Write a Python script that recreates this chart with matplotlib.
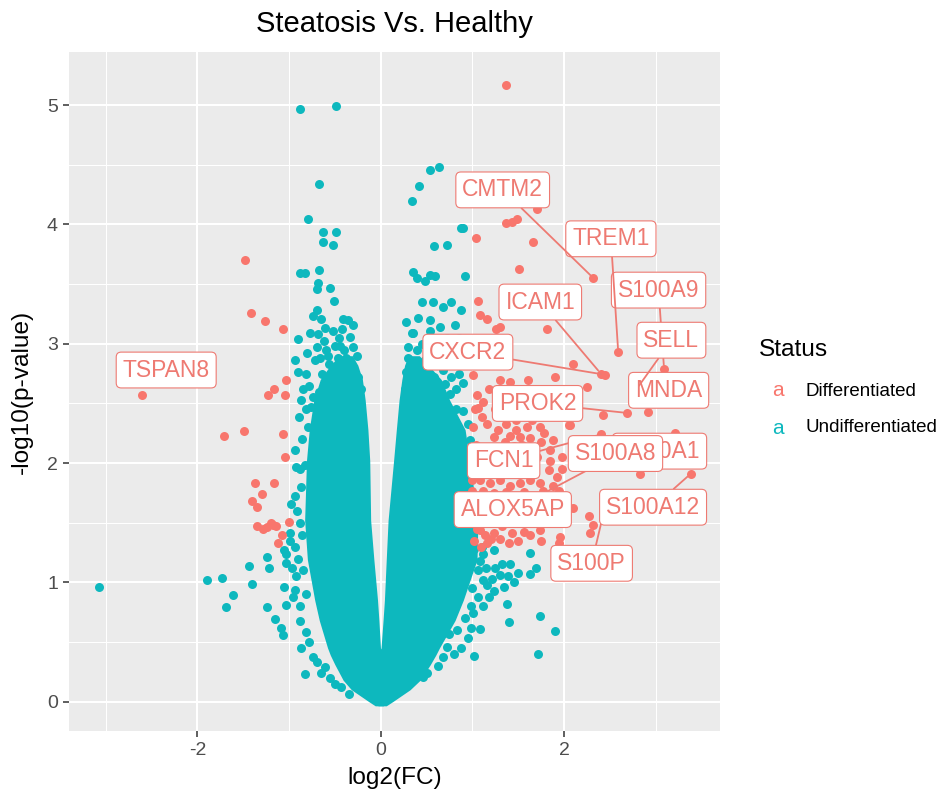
import matplotlib
matplotlib.use("Agg")
import matplotlib.pyplot as plt

plt.rcParams['font.family'] = ['Liberation Sans', 'DejaVu Sans']
plt.rcParams['axes.unicode_minus'] = False

# ---------------- data ----------------
# dense core of the undifferentiated cloud: outer/inner envelope per -log10(p) level
env_y  = [-0.035, 0.00, 0.10, 0.18, 0.31, 0.39, 0.45, 0.68, 0.85, 1.19, 1.52, 2.02, 2.28, 2.53, 2.70, 2.82, 2.90]
env_lo = [-0.06, -0.13, -0.32, -0.41, -0.50, -0.55, -0.58, -0.67, -0.72, -0.80, -0.83, -0.81, -0.78, -0.73, -0.66, -0.55, -0.45]
env_li = [0.03, 0.03, 0.03, 0.03, 0.03, 0.03, -0.003, -0.02, -0.035, -0.075, -0.11, -0.12, -0.14, -0.17, -0.20, -0.25, -0.31]
env_ri = [-0.03, -0.03, -0.03, -0.03, -0.03, -0.03, 0.003, 0.025, 0.04, 0.06, 0.08, 0.14, 0.17, 0.20, 0.23, 0.26, 0.30]
env_ro = [0.06, 0.13, 0.32, 0.43, 0.54, 0.60, 0.64, 0.81, 0.90, 1.05, 1.06, 0.97, 0.92, 0.75, 0.66, 0.52, 0.42]

teal_upper_left = [
    (-0.885, 4.97), (-0.49, 4.99), (-0.67, 4.34), (-0.79, 4.05), (-0.63, 3.94), (-0.49, 3.94),
    (-0.63, 3.85), (-0.52, 3.83), (-0.88, 3.59), (-0.83, 3.59), (-0.67, 3.62), (-0.68, 3.51),
    (-0.69, 3.46), (-0.55, 3.47), (-0.51, 3.36), (-0.70, 3.28), (-0.74, 3.23), (-0.65, 3.21),
    (-0.41, 3.21), (-0.30, 3.16), (-0.36, 3.20), (-0.61, 3.13), (-0.52, 3.11), (-0.77, 3.09),
    (-0.90, 3.04), (-0.30, 2.97), (-0.94, 2.86), (-0.72, 2.86), (-0.58, 2.90), (-0.56, 2.83),
    (-0.36, 2.83), (-0.90, 2.76), (-0.81, 2.75), (-0.78, 2.65), (-0.67, 2.60), (-0.87, 2.53),
    (-0.74, 2.55), (-0.89, 2.39), (-0.79, 2.30), (-0.70, 2.37), (-0.94, 2.11), (-0.92, 1.97),
    (-0.83, 1.98), (-0.94, 1.72), (-0.98, 1.66), (-0.45, 3.05), (-0.40, 2.95), (-0.62, 3.02),
    (-0.70, 2.97), (-0.50, 2.98), (-0.47, 2.88), (-0.68, 3.08), (-0.42, 3.12), (-0.33, 3.06),
    (-0.26, 2.90), (-0.80, 2.92), (-0.64, 2.75), (-0.56, 2.70), (-0.30, 2.78), (-0.85, 2.62),
    (-0.82, 2.45), (-0.76, 2.47), (-0.60, 2.95), (-0.66, 2.88), (-0.38, 2.88), (-0.44, 2.98),
    (-0.25, 2.72), (-0.22, 2.62),
]
teal_upper_right = [
    (0.54, 4.46), (0.63, 4.48), (0.415, 4.32), (0.34, 4.20), (0.87, 3.97), (0.90, 3.97),
    (0.58, 3.82), (0.72, 3.83), (0.35, 3.60), (0.39, 3.55), (0.48, 3.53), (0.54, 3.58),
    (0.59, 3.57), (0.92, 3.57), (0.445, 3.35), (0.57, 3.35), (0.68, 3.31), (0.77, 3.35),
    (0.88, 3.28), (0.28, 3.18), (0.41, 3.22), (0.54, 3.20), (0.645, 3.14), (0.81, 3.16),
    (0.35, 3.09), (0.54, 3.11), (0.28, 2.76), (0.35, 2.85), (0.34, 3.09), (0.90, 2.44),
    (0.95, 2.33), (0.97, 2.19), (0.90, 2.67), (0.45, 2.78), (0.60, 2.82), (0.68, 2.78),
    (0.77, 2.72), (0.85, 2.75), (0.50, 2.70), (0.62, 2.62), (0.75, 2.58), (0.45, 3.00),
    (0.60, 3.02), (0.72, 3.05), (0.40, 2.95), (0.52, 2.92), (0.66, 2.92), (0.80, 2.88),
    (0.92, 2.95), (0.30, 2.97), (0.85, 3.05), (0.70, 2.50), (0.82, 2.45), (0.26, 2.62),
    (0.30, 2.88), (0.48, 2.86), (0.58, 2.72), (0.70, 2.66), (0.82, 2.62),
]
teal_lower_left = [
    (-3.07, 0.96), (-1.90, 1.02), (-1.73, 1.04), (-1.61, 0.89), (-1.69, 0.79), (-1.44, 1.14),
    (-1.40, 0.99), (-1.24, 1.21), (-1.22, 1.12), (-1.24, 0.79), (-1.15, 0.69), (-1.085, 0.62),
    (-1.07, 0.56), (-1.05, 1.27), (-1.03, 1.16), (-0.99, 1.41), (-1.05, 0.96), (-1.03, 0.81),
    (-0.885, 0.68), (-0.87, 0.45), (-0.81, 0.585), (-0.74, 0.375), (-0.83, 0.23), (-0.94, 0.935),
    (-0.65, 0.24), (-0.43, 0.12), (-0.61, 0.29), (-0.99, 1.35), (-1.03, 1.24), (-0.88, 0.80),
    (-0.92, 1.05), (-0.90, 1.20), (-0.93, 1.30), (-0.88, 1.50), (-0.91, 1.60), (-0.87, 1.80),
    (-0.86, 2.20), (-0.78, 0.50), (-0.70, 0.33), (-0.55, 0.20), (-0.50, 0.15), (-0.35, 0.06),
    (-0.96, 0.88), (-0.97, 1.12), (-0.86, 1.40), (-0.88, 1.95), (-0.85, 1.10), (-0.82, 0.90),
]
teal_lower_right = [
    (1.63, 1.25), (1.41, 1.15), (1.69, 1.12), (1.63, 1.07), (1.90, 0.59), (1.38, 0.82),
    (1.40, 0.67), (1.74, 0.72), (1.71, 0.40), (1.02, 0.38), (1.08, 0.61), (0.95, 0.53),
    (1.01, 0.74), (1.11, 1.02), (1.21, 1.03), (1.30, 1.06), (1.39, 1.05), (1.34, 0.96),
    (1.23, 0.93), (1.155, 0.98), (0.72, 0.46), (0.68, 0.375), (0.74, 0.57), (0.83, 0.60),
    (0.50, 0.24), (0.46, 0.21), (1.12, 1.24), (1.23, 1.27), (1.15, 1.12), (1.08, 1.18),
    (1.25, 1.12), (1.32, 1.15), (1.06, 0.88), (1.12, 0.80), (1.00, 0.95), (1.02, 1.28),
    (0.98, 0.62), (0.88, 0.45), (0.80, 0.40), (0.62, 0.30), (1.18, 0.88), (1.45, 1.00),
    (1.50, 1.08), (1.10, 1.30), (1.06, 1.10), (0.98, 0.80), (0.92, 0.70),
]
red_left = [
    (-2.60, 2.57), (-1.48, 3.70), (-1.42, 3.26), (-1.26, 3.19), (-1.07, 3.12), (-1.03, 2.70),
    (-1.16, 2.62), (-1.23, 2.57), (-1.04, 2.57), (-1.71, 2.23), (-1.49, 2.27), (-1.07, 2.24),
    (-1.04, 2.05), (-1.37, 1.83), (-1.16, 1.83), (-1.29, 1.74), (-1.40, 1.68), (-1.35, 1.63),
    (-1.35, 1.47), (-1.28, 1.45), (-1.20, 1.50), (-1.14, 1.47), (-1.08, 1.40), (-1.12, 1.33),
    (-1.00, 1.51), (-1.18, 1.48), (-1.24, 1.46),
]
red_right = [
    (1.37, 5.17), (1.70, 4.13), (1.37, 4.01), (1.43, 4.02), (1.49, 4.05), (1.04, 3.89),
    (1.66, 3.85), (1.51, 3.63), (2.32, 3.55), (1.08, 3.24), (1.16, 3.21), (1.30, 3.14),
    (1.26, 3.12), (1.81, 3.12), (2.59, 2.93), (2.10, 2.83), (2.40, 2.75), (2.45, 2.74),
    (1.90, 2.72), (3.09, 2.79), (2.79, 2.62), (2.25, 2.64), (1.01, 2.74), (1.30, 2.70),
    (1.41, 2.68), (1.61, 2.70), (1.05, 2.57), (1.12, 2.51), (1.06, 2.46), (1.10, 2.39),
    (1.16, 2.33), (2.42, 2.40), (1.65, 2.36), (1.74, 2.30), (1.59, 2.30), (1.48, 2.36),
    (1.37, 2.33), (1.28, 2.28), (1.23, 2.22), (1.41, 2.23), (1.52, 2.22), (1.63, 2.21),
    (1.48, 2.28), (1.36, 2.18), (1.45, 2.14), (1.54, 2.15), (1.88, 2.19), (1.85, 2.11),
    (1.85, 2.02), (1.83, 1.94), (1.92, 1.88), (1.88, 1.81), (1.94, 1.77), (2.05, 2.32),
    (2.07, 2.50), (1.74, 1.83), (1.77, 1.77), (1.08, 1.86), (1.19, 1.83), (1.30, 1.86),
    (1.41, 1.81), (1.52, 1.83), (1.63, 1.86), (1.12, 1.77), (1.23, 1.75), (1.37, 1.76),
    (1.56, 1.76), (1.08, 1.44), (1.16, 1.33), (1.23, 1.41), (1.32, 1.47), (1.43, 1.41),
    (1.56, 1.42), (1.63, 1.40), (1.74, 1.44), (1.96, 1.38), (1.94, 1.33), (2.32, 1.48),
    (2.28, 1.41), (0.99, 1.86), (0.99, 1.77), (2.69, 2.42), (2.92, 2.43), (3.21, 2.25),
    (3.38, 1.91), (2.83, 1.91), (3.16, 2.01), (2.27, 1.56), (2.40, 2.24), (2.40, 2.00),
    (2.43, 1.58), (2.62, 2.10), (2.06, 2.32), (1.02, 1.35), (1.05, 1.50), (1.03, 1.62),
    (1.06, 1.70), (1.02, 2.05), (1.04, 2.15), (1.01, 2.30), (1.03, 2.45), (1.06, 3.36),
    (1.15, 1.95), (1.25, 1.98), (1.60, 1.95), (1.70, 2.05), (1.20, 1.60), (1.45, 1.55),
    (1.05, 1.45), (1.10, 1.52), (1.15, 1.58), (1.08, 1.65), (1.13, 1.70), (1.18, 1.66),
    (1.25, 1.68), (1.30, 1.62), (1.35, 1.68), (1.28, 1.55), (1.38, 1.50), (1.50, 1.64),
    (1.55, 1.58), (1.65, 1.62), (1.70, 1.55), (1.80, 1.60), (1.85, 1.50), (1.75, 1.35),
    (1.50, 1.35), (1.40, 1.33), (1.30, 1.36), (1.10, 1.92), (1.17, 2.00), (1.22, 2.08),
    (1.12, 2.12), (1.30, 2.12), (1.55, 2.05), (1.65, 2.12), (1.75, 2.18), (1.78, 2.25),
    (1.70, 2.42), (1.80, 2.50), (1.55, 2.45), (1.45, 2.55), (1.25, 2.45), (1.35, 2.60),
    (1.18, 2.62), (1.52, 2.62), (1.95, 2.55), (1.98, 2.05), (1.98, 1.95), (2.00, 1.70),
    (2.10, 1.62), (1.90, 1.62), (1.14, 1.40), (1.20, 1.36), (1.06, 1.58), (1.09, 1.30),
]

gene_names = ["TSPAN8", "S100A9", "TREM1", "CMTM2", "ICAM1", "CXCR2", "MNDA", "SELL",
              "PROK2", "S100A1", "FCN1", "ALOX5AP", "S100A8", "S100P", "S100A12"]
gene_x = [-2.60, 3.09, 2.59, 2.32, 2.40, 2.45, 2.92, 2.79, 2.69, 3.21, 2.40, 2.40, 2.62, 2.43, 3.38]
gene_y = [2.57, 2.79, 2.93, 3.55, 2.75, 2.74, 2.43, 2.62, 2.42, 2.25, 2.24, 2.00, 2.10, 1.58, 1.91]

# label layout (where the repelled boxes ended up) and whether a leader line is drawn
label_pos = [(-2.34, 2.78), (3.03, 3.45), (2.51, 3.88), (1.33, 4.29), (1.74, 3.35), (0.95, 2.93),
             (3.14, 2.61), (3.17, 3.03), (1.71, 2.50), (3.04, 2.10), (1.34, 2.02), (1.44, 1.61),
             (2.56, 2.08), (2.30, 1.16), (2.97, 1.63)]
label_line = [False, True, True, True, True, True, False, True, True, False, True, True,
              False, True, True]

x_ticks = [-2, 0, 2]
y_ticks = [0, 1, 2, 3, 4, 5]

# ---------------- styling ----------------
RED = '#F8766D'
TEAL = '#0DB8BE'
LABEL_COL = '#EE7A72'

fig = plt.figure(figsize=(9.47, 7.98), dpi=100)
W, H = 947, 798
ax = fig.add_axes([69 / W, 1 - 731 / H, (720 - 69) / W, (731 - 52) / H])
ax.set_facecolor('#EBEBEB')
for s in ax.spines.values():
    s.set_visible(False)

ax.set_xlim(-3.40, 3.70)
ax.set_ylim(-0.246, 5.446)
ax.set_xticks(x_ticks)
ax.set_xticklabels([str(t) for t in x_ticks])
ax.set_yticks(y_ticks)
ax.set_yticklabels([str(t) for t in y_ticks])
ax.set_xticks([-3, -1, 1, 3], minor=True)
ax.set_yticks([0.5, 1.5, 2.5, 3.5, 4.5], minor=True)
ax.grid(which='major', color='white', lw=1.5)
ax.grid(which='minor', color='white', lw=0.75)
ax.set_axisbelow(True)
ax.tick_params(which='major', length=4, width=1.1, color='#333333', labelcolor='#4D4D4D',
               labelsize=14, pad=4)
ax.tick_params(which='minor', length=0)

# dense core
ax.fill_betweenx(env_y, env_lo, env_li, color=TEAL, lw=0, zorder=2)
ax.fill_betweenx(env_y, env_ri, env_ro, color=TEAL, lw=0, zorder=2)

def scat(pts, col, z):
    xs = [p[0] for p in pts]
    ys = [p[1] for p in pts]
    ax.scatter(xs, ys, s=42, color=col, lw=0, zorder=z)

for grp in (teal_upper_left, teal_upper_right, teal_lower_left, teal_lower_right):
    scat(grp, TEAL, 3)
scat(red_left, RED, 4)
scat(red_right, RED, 4)

for i, name in enumerate(gene_names):
    lx, ly = label_pos[i]
    kw = {}
    if label_line[i]:
        kw['arrowprops'] = dict(arrowstyle='-', color=LABEL_COL, lw=1.3,
                                shrinkA=0, shrinkB=3)
    ax.annotate(name, xy=(gene_x[i], gene_y[i]), xytext=(lx, ly), textcoords='data',
                ha='center', va='center', fontsize=16.5, color=LABEL_COL,
                bbox=dict(boxstyle='round,pad=0.28,rounding_size=0.22', fc='white',
                          ec=LABEL_COL, lw=0.8),
                zorder=10 + i, annotation_clip=False, **kw)

ax.set_xlabel('log2(FC)', fontsize=17.6, labelpad=6)
ax.set_ylabel('-log10(p-value)', fontsize=17.6, labelpad=10)
fig.text(394.5 / W, 1 - 24 / H, 'Steatosis Vs. Healthy', fontsize=21, ha='center', va='center')

# legend
fig.text(759 / W, 1 - 350 / H, 'Status', fontsize=17.6, ha='left', va='center')
fig.text(778 / W, 1 - 391 / H, 'a', fontsize=15, ha='center', va='center', color=RED)
fig.text(778 / W, 1 - 428 / H, 'a', fontsize=15, ha='center', va='center', color=TEAL)
fig.text(805 / W, 1 - 391 / H, 'Differentiated', fontsize=13.5, ha='left', va='center')
fig.text(805 / W, 1 - 428 / H, 'Undifferentiated', fontsize=13.5, ha='left', va='center')

fig.savefig('out.png', dpi=100, facecolor='white')
